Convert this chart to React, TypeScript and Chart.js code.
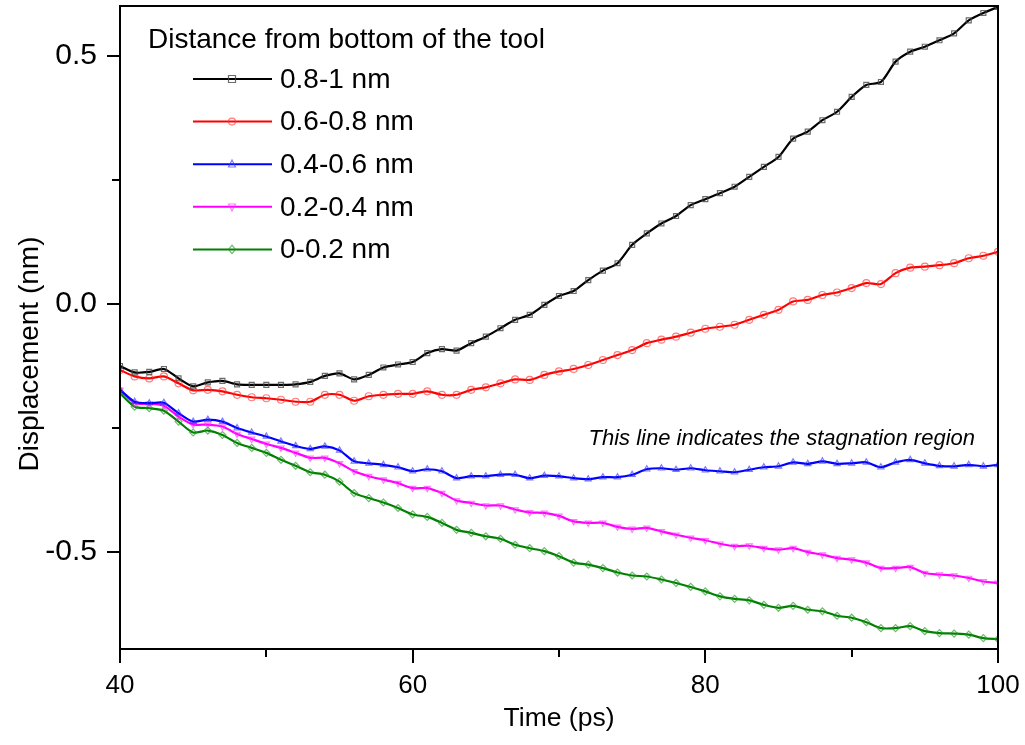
import React, { useEffect, useRef } from 'react';
import { Chart, registerables } from 'chart.js';

Chart.register(...registerables);

const TIME = [
  40, 41, 42, 43, 44, 45, 46, 47, 48, 49, 50, 51, 52, 53, 54, 55, 56, 57, 58, 59, 60,
  61, 62, 63, 64, 65, 66, 67, 68, 69, 70, 71, 72, 73, 74, 75, 76, 77, 78, 79, 80,
  81, 82, 83, 84, 85, 86, 87, 88, 89, 90, 91, 92, 93, 94, 95, 96, 97, 98, 99, 100,
];

const D_08_10 = [
  -0.125, -0.138, -0.137, -0.131, -0.150, -0.166, -0.158, -0.155, -0.162, -0.163, -0.163,
  -0.163, -0.162, -0.157, -0.145, -0.140, -0.152, -0.143, -0.128, -0.122, -0.117,
  -0.099, -0.091, -0.094, -0.079, -0.066, -0.049, -0.032, -0.022, -0.002, 0.016,
  0.026, 0.048, 0.067, 0.082, 0.119, 0.142, 0.162, 0.177, 0.199, 0.211,
  0.223, 0.236, 0.256, 0.276, 0.296, 0.333, 0.347, 0.370, 0.387, 0.417,
  0.441, 0.447, 0.488, 0.508, 0.518, 0.531, 0.545, 0.571, 0.586, 0.598,
];

const D_06_08 = [
  -0.133, -0.146, -0.150, -0.146, -0.160, -0.174, -0.173, -0.176, -0.183, -0.188, -0.190,
  -0.193, -0.197, -0.197, -0.183, -0.183, -0.195, -0.186, -0.183, -0.181, -0.181,
  -0.176, -0.183, -0.183, -0.173, -0.168, -0.160, -0.152, -0.153, -0.143, -0.136,
  -0.131, -0.123, -0.113, -0.103, -0.093, -0.079, -0.072, -0.066, -0.058, -0.050,
  -0.046, -0.042, -0.032, -0.022, -0.012, 0.005, 0.008, 0.018, 0.023, 0.032,
  0.042, 0.040, 0.062, 0.073, 0.075, 0.078, 0.082, 0.092, 0.097, 0.105,
];

const D_04_06 = [
  -0.173, -0.197, -0.200, -0.199, -0.220, -0.237, -0.233, -0.237, -0.250, -0.259, -0.267,
  -0.277, -0.286, -0.292, -0.287, -0.295, -0.317, -0.321, -0.324, -0.329, -0.337,
  -0.333, -0.337, -0.351, -0.347, -0.347, -0.344, -0.344, -0.351, -0.346, -0.347,
  -0.351, -0.353, -0.349, -0.349, -0.344, -0.333, -0.331, -0.334, -0.331, -0.335,
  -0.337, -0.339, -0.334, -0.329, -0.327, -0.319, -0.322, -0.317, -0.322, -0.321,
  -0.319, -0.329, -0.319, -0.314, -0.321, -0.326, -0.327, -0.324, -0.327, -0.324,
];

const D_02_04 = [
  -0.173, -0.200, -0.201, -0.205, -0.227, -0.243, -0.243, -0.247, -0.262, -0.272, -0.282,
  -0.290, -0.300, -0.310, -0.310, -0.321, -0.337, -0.347, -0.354, -0.361, -0.371,
  -0.371, -0.381, -0.396, -0.401, -0.406, -0.406, -0.414, -0.420, -0.421, -0.427,
  -0.438, -0.441, -0.441, -0.449, -0.453, -0.451, -0.458, -0.465, -0.471, -0.476,
  -0.483, -0.488, -0.487, -0.492, -0.495, -0.492, -0.500, -0.505, -0.512, -0.515,
  -0.521, -0.532, -0.532, -0.530, -0.542, -0.545, -0.547, -0.552, -0.559, -0.562,
];

const D_00_02 = [
  -0.180, -0.207, -0.210, -0.215, -0.237, -0.259, -0.255, -0.264, -0.280, -0.290, -0.300,
  -0.314, -0.326, -0.339, -0.344, -0.358, -0.381, -0.391, -0.400, -0.411, -0.424,
  -0.429, -0.441, -0.455, -0.461, -0.468, -0.473, -0.485, -0.492, -0.498, -0.508,
  -0.521, -0.525, -0.532, -0.541, -0.547, -0.549, -0.555, -0.562, -0.570, -0.579,
  -0.589, -0.594, -0.597, -0.606, -0.612, -0.608, -0.616, -0.619, -0.628, -0.632,
  -0.641, -0.653, -0.653, -0.649, -0.659, -0.663, -0.664, -0.666, -0.673, -0.675,
];

const SERIES_LABELS = ['0.8-1 nm', '0.6-0.8 nm', '0.4-0.6 nm', '0.2-0.4 nm', '0-0.2 nm'];
const X_MINOR_TICKS = [50, 70, 90];
const Y_MINOR_TICKS = [-0.25, 0.25];
const LEGEND_TITLE = 'Distance from bottom of the tool';
const ANNOTATION = 'This line indicates the stagnation region';
const X_TITLE = 'Time (ps)';
const Y_TITLE = 'Displacement (nm)';

const FONT = '"Liberation Sans", Arial, Helvetica, sans-serif';

type Marker = 'rect' | 'circle' | 'triangle' | 'triangleDown' | 'diamond';

const STYLES: { color: string; mark: string; marker: Marker }[] = [
  { color: '#000000', mark: 'rgba(70,70,70,0.8)', marker: 'rect' },
  { color: '#ff0000', mark: 'rgba(255,50,50,0.65)', marker: 'circle' },
  { color: '#0000ff', mark: 'rgba(50,50,255,0.65)', marker: 'triangle' },
  { color: '#ff00ff', mark: 'rgba(255,50,255,0.65)', marker: 'triangleDown' },
  { color: '#008000', mark: 'rgba(30,150,30,0.65)', marker: 'diamond' },
];

function drawMarker(ctx: CanvasRenderingContext2D, m: Marker, x: number, y: number, r: number) {
  ctx.beginPath();
  if (m === 'rect') {
    ctx.rect(x - r, y - r, 2 * r, 2 * r);
  } else if (m === 'circle') {
    ctx.arc(x, y, r, 0, Math.PI * 2);
  } else if (m === 'triangle') {
    ctx.moveTo(x, y - r * 1.2);
    ctx.lineTo(x + r, y + r * 0.8);
    ctx.lineTo(x - r, y + r * 0.8);
    ctx.closePath();
  } else if (m === 'triangleDown') {
    ctx.moveTo(x, y + r * 1.2);
    ctx.lineTo(x + r, y - r * 0.8);
    ctx.lineTo(x - r, y - r * 0.8);
    ctx.closePath();
  } else {
    ctx.moveTo(x, y - r * 1.2);
    ctx.lineTo(x + r, y);
    ctx.lineTo(x, y + r * 1.2);
    ctx.lineTo(x - r, y);
    ctx.closePath();
  }
  ctx.stroke();
}

const decorPlugin = {
  id: 'decor',
  afterDatasetsDraw(chart: any) {
    const ctx: CanvasRenderingContext2D = chart.ctx;
    const area = chart.chartArea;
    const xs = chart.scales.x;
    const ys = chart.scales.y;
    ctx.save();
    // frame
    ctx.strokeStyle = '#000';
    ctx.lineWidth = 2;
    ctx.strokeRect(area.left, area.top, area.right - area.left, area.bottom - area.top);
    // minor ticks
    ctx.beginPath();
    X_MINOR_TICKS.forEach((v) => {
      const px = Math.round(xs.getPixelForValue(v));
      ctx.moveTo(px, area.bottom);
      ctx.lineTo(px, area.bottom + 8);
    });
    Y_MINOR_TICKS.forEach((v) => {
      const py = Math.round(ys.getPixelForValue(v));
      ctx.moveTo(area.left, py);
      ctx.lineTo(area.left - 8, py);
    });
    ctx.stroke();

    // axis titles
    ctx.fillStyle = '#000';
    ctx.textAlign = 'center';
    ctx.textBaseline = 'middle';
    ctx.font = `26.5px ${FONT}`;
    ctx.fillText(X_TITLE, (area.left + area.right) / 2, 719);
    ctx.font = `28px ${FONT}`;
    ctx.save();
    ctx.translate(30, 354);
    ctx.rotate(-Math.PI / 2);
    ctx.fillText(Y_TITLE, 0, 0);
    ctx.restore();

    // annotation
    ctx.font = `italic 22px ${FONT}`;
    ctx.textAlign = 'right';
    ctx.fillText(ANNOTATION, 975, 439);

    // legend
    ctx.font = `28px ${FONT}`;
    ctx.textAlign = 'left';
    ctx.fillText(LEGEND_TITLE, 148, 40);
    chart.data.datasets.forEach((ds: any, i: number) => {
      const y = 79 + i * 42.6;
      const st = STYLES[i];
      ctx.strokeStyle = st.color;
      ctx.lineWidth = 2;
      ctx.beginPath();
      ctx.moveTo(193, y);
      ctx.lineTo(272, y);
      ctx.stroke();
      ctx.strokeStyle = st.mark;
      ctx.lineWidth = 1.2;
      drawMarker(ctx, st.marker, 232, y, 3.5);
      ctx.fillStyle = '#000';
      ctx.fillText(ds.label, 280, y + 1);
    });
    ctx.restore();
  },
};

export default function App() {
  const ref = useRef<HTMLCanvasElement | null>(null);

  useEffect(() => {
    if (!ref.current) return;
    const all = [D_08_10, D_06_08, D_04_06, D_02_04, D_00_02];
    const datasets = all.map((vals, i) => {
      const st = STYLES[i];
      return {
        label: SERIES_LABELS[i],
        data: TIME.map((t, k) => ({ x: t, y: vals[k] })),
        borderColor: st.color,
        backgroundColor: 'rgba(0,0,0,0)',
        borderWidth: 2.2,
        tension: 0.25,
        pointStyle: st.marker === 'diamond' ? 'rectRot' : st.marker === 'triangleDown' ? 'triangle' : st.marker,
        pointRotation: st.marker === 'triangleDown' ? 180 : 0,
        pointRadius: 3.5,
        pointBorderWidth: 1.2,
        pointBorderColor: st.mark,
        pointBackgroundColor: 'rgba(0,0,0,0)',
        fill: false,
      };
    });

    const chart = new Chart(ref.current, {
      type: 'line',
      data: { datasets },
      options: {
        animation: false,
        responsive: false,
        devicePixelRatio: 1,
        layout: { padding: { top: 6, right: 27, left: 0, bottom: 0 } },
        plugins: {
          legend: { display: false },
          tooltip: { enabled: false },
        },
        scales: {
          x: {
            type: 'linear',
            min: 40,
            max: 100,
            border: { display: false },
            grid: { display: true, drawOnChartArea: false, drawTicks: true, tickLength: 14, color: '#000', lineWidth: 2 },
            ticks: {
              stepSize: 20,
              includeBounds: false,
              color: '#000',
              padding: 7,
              maxRotation: 0,
              font: { family: FONT, size: 26 },
              callback: (v: any) => String(v),
            },
            afterFit: (s: any) => {
              s.height = 96;
              s.paddingLeft = 0;
              s.paddingRight = 0;
            },
          },
          y: {
            type: 'linear',
            min: -0.695,
            max: 0.6,
            border: { display: false },
            grid: { display: true, drawOnChartArea: false, drawTicks: true, tickLength: 13, color: '#000', lineWidth: 2 },
            ticks: {
              stepSize: 0.5,
              includeBounds: false,
              color: '#000',
              padding: 10,
              font: { family: FONT, size: 30 },
              callback: (v: any) => Number(v).toFixed(1),
            },
            afterFit: (s: any) => {
              s.width = 120;
              s.paddingTop = 0;
              s.paddingBottom = 0;
            },
          },
        },
      },
      plugins: [decorPlugin],
    } as any);
    return () => chart.destroy();
  }, []);

  return (
    <div style={{ position: 'absolute', left: 0, top: 0, width: 1025, height: 745, background: '#fff' }}>
      <canvas ref={ref} width={1025} height={745} style={{ display: 'block' }} />
    </div>
  );
}
